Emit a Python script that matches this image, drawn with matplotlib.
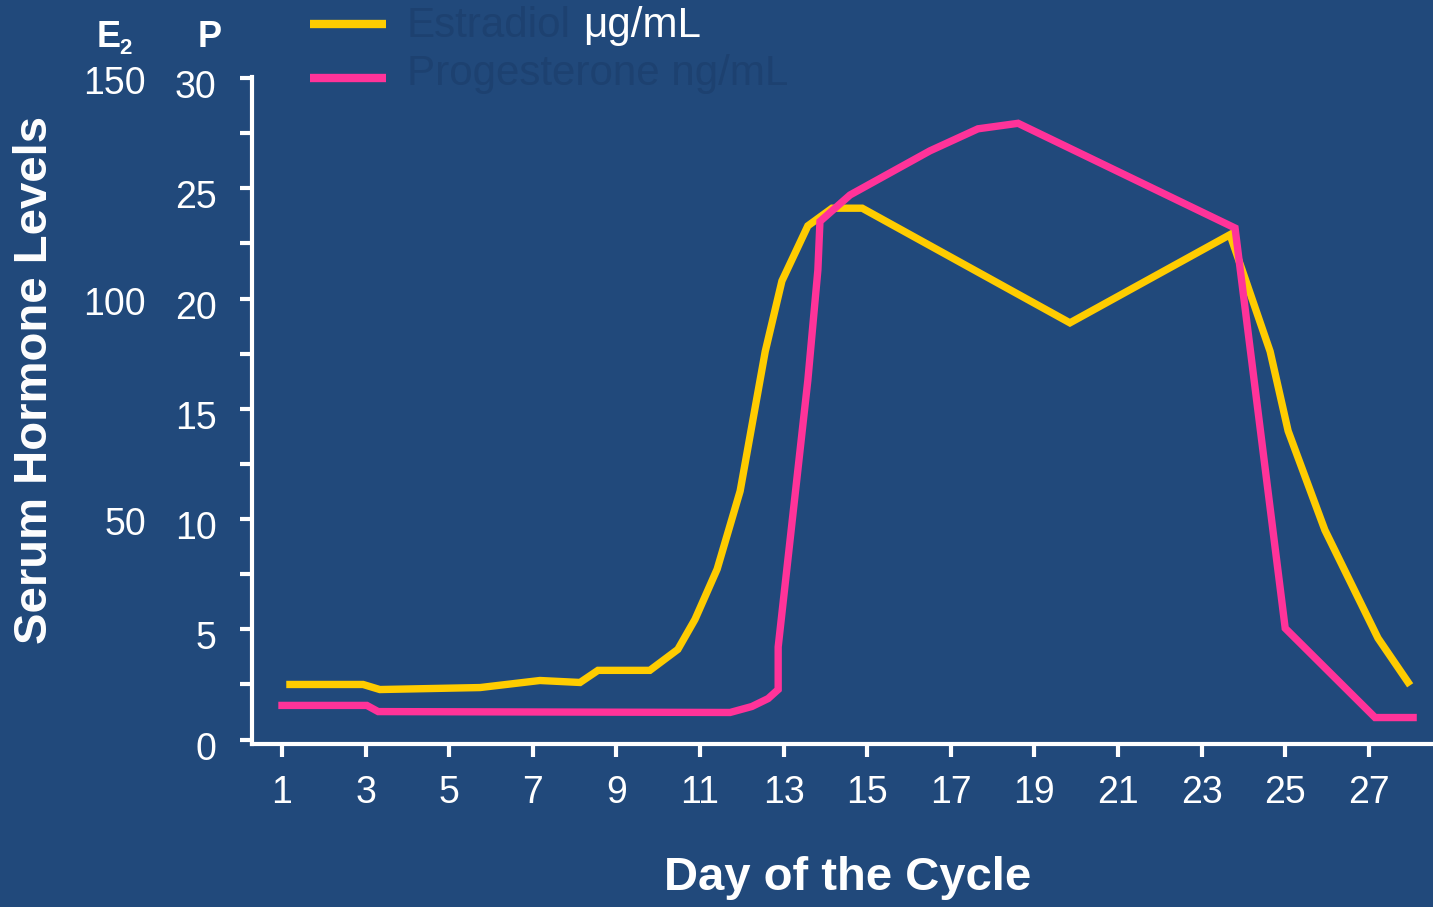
import matplotlib
matplotlib.use("Agg")
import matplotlib.pyplot as plt
from matplotlib.lines import Line2D
from matplotlib.ticker import MultipleLocator
from matplotlib.transforms import ScaledTranslation

# ---- data ----
e2_day = [1.19, 2.94, 3.34, 5.74, 7.17, 8.13, 8.56, 9.80, 10.47, 10.88, 11.41, 11.96,
          12.56, 12.96, 13.58, 14.16, 14.88, 19.85, 23.68, 24.64, 25.07, 25.95, 27.22, 27.94]
e2_val = [2.5, 2.5, 2.27, 2.36, 2.68, 2.59, 3.14, 3.14, 4.09, 5.45, 7.73, 11.27,
          17.6, 20.8, 23.3, 24.1, 24.1, 18.9, 22.9, 17.6, 14.0, 9.5, 4.6, 2.6]
p_day = [1.0, 3.03, 3.30, 11.72, 12.24, 12.63, 12.87, 12.87, 13.58, 13.82, 13.87,
         14.59, 16.50, 17.65, 18.61, 23.80, 25.0, 27.15, 28.06]
p_val = [1.55, 1.55, 1.27, 1.23, 1.5, 1.86, 2.27, 4.2, 16.3, 21.3, 23.5,
         24.7, 26.7, 27.7, 27.95, 23.2, 5.05, 1.0, 1.0]
x_ticks = list(range(1, 28, 2))
p_ticks = [0, 5, 10, 15, 20, 25, 30]
e2_ticks = [50, 100, 150]          # E2 scale: 150 <-> P 30
legend_labels = ["Estradiol", "Progesterone ng/mL"]

BG = "#21497b"
YEL = "#ffcc00"
PINK = "#ff3399"
DARK = "#1d4170"
FONT = ["Liberation Sans", "DejaVu Sans"]
plt.rcParams['font.family'] = FONT

W, H = 1433, 907
fig = plt.figure(figsize=(W / 100, H / 100), dpi=100, facecolor=BG)
ax = fig.add_axes([252 / W, 1 - 744 / H, (W - 252) / W, (744 - 77) / H])
ax.set_facecolor(BG)

ax.plot(e2_day, e2_val, color=YEL, lw=5.3, solid_joinstyle='miter', zorder=3)
ax.plot(p_day, p_val, color=PINK, lw=5.3, solid_joinstyle='miter', zorder=4)

ax.set_xlim(1 - 30 / 41.8, 1 + (W - 282) / 41.8)
ax.set_ylim(-0.2, 30.05)

for s in ['top', 'right']:
    ax.spines[s].set_visible(False)
for s in ['left', 'bottom']:
    ax.spines[s].set_color('white')
    ax.spines[s].set_linewidth(3)

ax.set_xticks(x_ticks)
ax.set_xticklabels([str(t) for t in x_ticks])
ax.set_yticks(p_ticks)
ax.set_yticklabels([str(t) for t in p_ticks])
ax.yaxis.set_minor_locator(MultipleLocator(2.5))
ax.tick_params(axis='both', which='both', colors='white', width=3, direction='out', length=9)
ax.tick_params(axis='x', pad=13, labelsize=27)
ax.tick_params(axis='y', which='major', pad=16.5, labelsize=27)

off = ScaledTranslation(0, -6 / 100, fig.dpi_scale_trans)
for lbl in ax.get_yticklabels():
    lbl.set_transform(lbl.get_transform() + off)

# E2 tick labels
ytr = ax.get_yaxis_transform()
for v in e2_ticks:
    ax.text(-(252 - 146) / (W - 252), v / 5, str(v), transform=ytr + off, ha='right', va='center',
            color='white', fontsize=27)

# header labels E2 and P
fig.text(97 / W, 1 - 47 / H, "E", color='white', fontsize=26, fontweight='bold',
         ha='left', va='baseline')
fig.text(119 / W, 1 - 54 / H, "2", color='white', fontsize=16, fontweight='bold',
         ha='left', va='baseline')
fig.text(210 / W, 1 - 47 / H, "P", color='white', fontsize=26, fontweight='bold',
         ha='center', va='baseline')

# axis titles
fig.text(35 / W, 1 - 380 / H, "Serum Hormone Levels", rotation=90, color='white',
         fontsize=34, fontweight='bold', ha='center', va='center')
fig.text(848 / W, 1 - 878 / H, "Day of the Cycle", color='white',
         fontsize=34, fontweight='bold', ha='center', va='center')

# legend (manual)
for yy, by, col, lab in [(24, 37, YEL, legend_labels[0]), (78, 85, PINK, legend_labels[1])]:
    fig.add_artist(Line2D([310 / W, 386 / W], [1 - yy / H, 1 - yy / H], color=col, lw=6,
                          solid_capstyle='butt', transform=fig.transFigure))
    fig.text(407 / W, 1 - by / H, lab, color=DARK, fontsize=30.3, ha='left', va='baseline')
fig.text(583 / W, 1 - 37 / H, "\u03bcg/mL", color='white', fontsize=30.3, ha='left', va='baseline')

fig.savefig("out.png", dpi=100, facecolor=BG)
